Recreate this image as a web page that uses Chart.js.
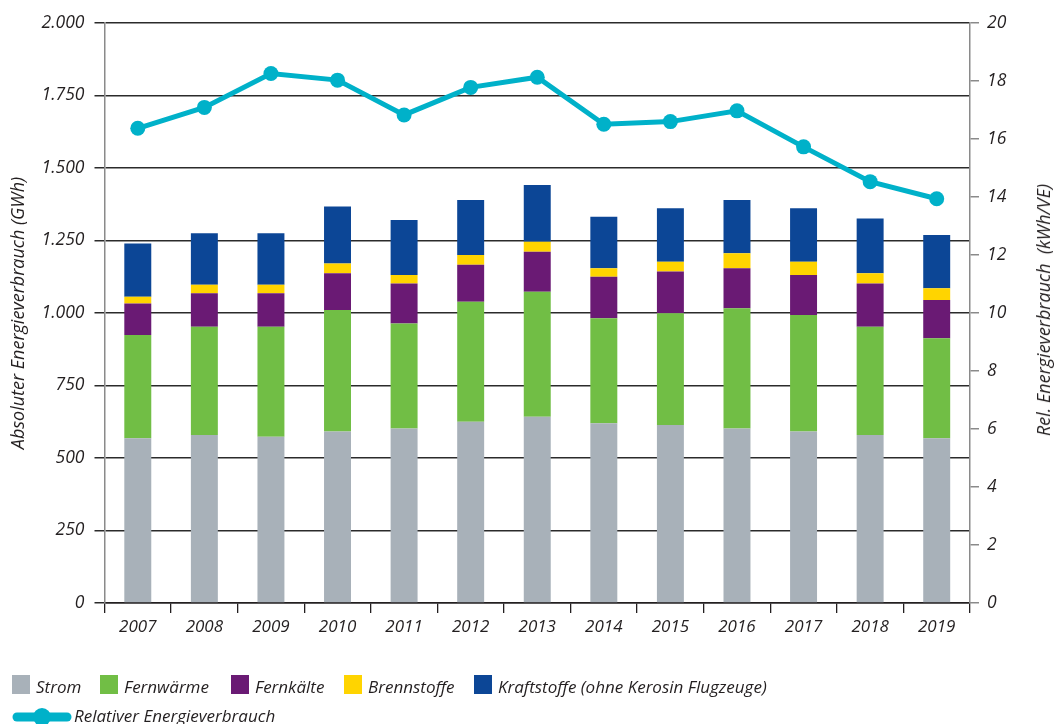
<!DOCTYPE html>
<html>
<head>
<meta charset="utf-8">
<script src="https://cdn.jsdelivr.net/npm/chart.js@4.4.1/dist/chart.umd.min.js"></script>
<style>
  html, body { margin: 0; padding: 0; background: #fff; }
  #wrap { position: relative; width: 1061px; height: 724px; overflow: hidden; }
  #c { position: absolute; left: 0; top: 0; }
  .leg { position: absolute; font-family: "Open Sans", sans-serif; font-style: italic; font-size: 17px; color: #231f20; white-space: nowrap; line-height: 1; }
  .box { position: absolute; width: 18px; height: 19px; }
  #rtitle { position: absolute; left: 1043px; top: 310px; transform: translate(-50%, -50%) rotate(-90deg);
            font-family: "Open Sans", sans-serif; font-style: italic; font-size: 18px; color: #231f20; white-space: pre; line-height: 1; }
</style>
</head>
<body>
<div id="wrap">
  <canvas id="c" width="1061" height="724"></canvas>
  <div id="rtitle"></div>
  <div id="legend"></div>
</div>
<script>
const years = ["2007","2008","2009","2010","2011","2012","2013","2014","2015","2016","2017","2018","2019"];
const strom       = [568, 579, 573, 591, 602, 625, 642, 620, 614, 602, 591, 579, 568];
const fernwaerme  = [356, 374, 380, 419, 362, 414, 431, 362, 385, 414, 402, 374, 345];
const fernkaelte  = [109, 115, 115, 127, 138, 127, 138, 143, 144, 138, 138, 149, 132];
const brennstoffe = [23, 29, 29, 34, 29, 34, 35, 29, 34, 52, 46, 35, 40];
const kraftstoffe = [184, 178, 178, 196, 190, 190, 195, 178, 184, 184, 184, 189, 184];
const relativ     = [16.37, 17.09, 18.26, 18.03, 16.83, 17.78, 18.13, 16.51, 16.60, 16.97, 15.73, 14.53, 13.94];
const leftTickLabels  = ["0", "250", "500", "750", "1.000", "1.250", "1.500", "1.750", "2.000"];
const rightTickLabels = ["0", "2", "4", "6", "8", "10", "12", "14", "16", "18", "20"];

const seriesNames = ["Strom", "Fernwärme", "Fernkälte", "Brennstoffe", "Kraftstoffe (ohne Kerosin Flugzeuge)"];
const seriesColors = ["#a8b1b9", "#71be45", "#6a1a74", "#ffd400", "#0c4696"];
const lineName = "Relativer Energieverbrauch";
const lineColor = "#00b1c9";
const leftTitle = "Absoluter Energieverbrauch (GWh)";
const rightTitle = "Rel. Energieverbrauch  (kWh/VE)";

const FONT = { family: "'Open Sans', sans-serif", style: "italic", size: 17 };
const TXT = "#231f20";

const barData = [strom, fernwaerme, fernkaelte, brennstoffe, kraftstoffe];
const datasets = barData.map((d, i) => ({
  type: "bar",
  label: seriesNames[i],
  data: d,
  backgroundColor: seriesColors[i],
  borderWidth: 0,
  yAxisID: "y",
  stack: "s",
  order: 2,
  categoryPercentage: 1.0,
  barPercentage: 0.405
}));
datasets.push({
  type: "line",
  label: lineName,
  data: relativ,
  yAxisID: "y1",
  borderColor: lineColor,
  backgroundColor: lineColor,
  borderWidth: 5,
  pointRadius: 7.5,
  pointHoverRadius: 7.5,
  pointBackgroundColor: lineColor,
  pointBorderWidth: 0,
  tension: 0,
  order: 0
});

new Chart(document.getElementById("c"), {
  data: { labels: years, datasets },
  options: {
    responsive: false,
    animation: false,
    devicePixelRatio: 1,
    layout: { padding: { left: 0, right: 0, top: 23, bottom: 81 } },
    plugins: { legend: { display: false }, tooltip: { enabled: false } },
    scales: {
      x: {
        stacked: true,
        offset: true,
        grid: { offset: true, drawOnChartArea: false, drawTicks: true, tickLength: 10, color: "#231f20", lineWidth: 1.3 },
        border: { color: "#231f20", width: 1.5 },
        ticks: { color: TXT, font: FONT, padding: 4, maxRotation: 0 },
        afterFit: (s) => { s.height = 40; }
      },
      y: {
        position: "left",
        stacked: true,
        min: 0, max: 2000,
        grid: { color: "#2b2b2b", lineWidth: 1.5, tickLength: 10, drawTicks: true },
        border: { color: "#8a8a8a", width: 1.5 },
        ticks: {
          stepSize: 250, color: TXT, font: Object.assign({}, FONT, { size: 17.5 }), padding: 10,
          callback: (v, i) => leftTickLabels[i]
        },
        title: { display: true, text: leftTitle, color: TXT, font: Object.assign({}, FONT, { size: 18 }), padding: { top: 8, bottom: 0 } },
        afterFit: (s) => { s.width = 104.5; }
      },
      y1: {
        position: "right",
        min: 0, max: 20,
        grid: { drawOnChartArea: false, color: "#8a8a8a", tickLength: 9, lineWidth: 1.5 },
        border: { color: "#8a8a8a", width: 1.5 },
        ticks: {
          stepSize: 2, color: TXT, font: Object.assign({}, FONT, { size: 17.5 }), padding: 8,
          callback: (v, i) => rightTickLabels[i]
        },
        afterFit: (s) => { s.width = 91; }
      }
    }
  }
});

document.getElementById("rtitle").textContent = rightTitle;

// HTML legend
const legend = document.getElementById("legend");
const boxX = [12, 100, 231, 344, 474];
seriesNames.forEach((n, i) => {
  const b = document.createElement("div");
  b.className = "box";
  b.style.left = boxX[i] + "px"; b.style.top = "675px"; b.style.background = seriesColors[i];
  legend.appendChild(b);
  const t = document.createElement("div");
  t.className = "leg";
  t.style.left = (boxX[i] + 24) + "px"; t.style.top = "678px";
  t.textContent = n;
  legend.appendChild(t);
});
const sym = document.createElementNS("http://www.w3.org/2000/svg", "svg");
sym.setAttribute("width", "70"); sym.setAttribute("height", "30");
sym.style.position = "absolute"; sym.style.left = "6px"; sym.style.top = "702px";
sym.innerHTML = '<line x1="11" y1="15" x2="61" y2="15" stroke="' + lineColor + '" stroke-width="9" stroke-linecap="round"/>' +
                '<circle cx="36" cy="15" r="9" fill="' + lineColor + '"/>';
legend.appendChild(sym);
const lt = document.createElement("div");
lt.className = "leg";
lt.style.left = "74px"; lt.style.top = "707px";
lt.textContent = lineName;
legend.appendChild(lt);
</script>
</body>
</html>
